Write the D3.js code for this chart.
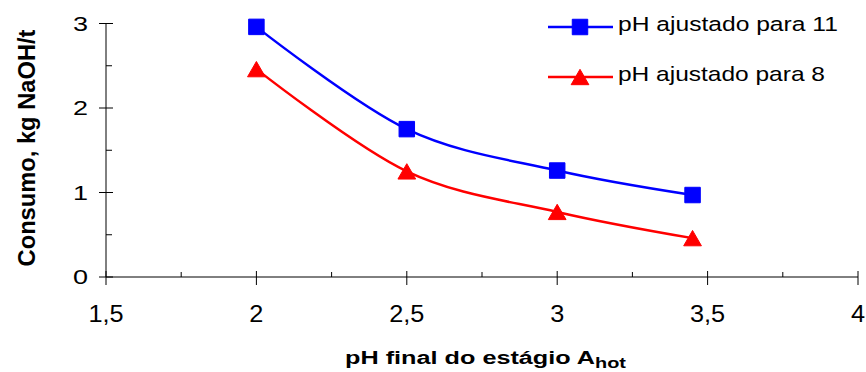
<!DOCTYPE html>
<html>
<head>
<meta charset="utf-8">
<script src="https://cdn.jsdelivr.net/npm/d3@7"></script>
<style>
  html, body { margin: 0; padding: 0; background: #fff; }
  svg { display: block; font-family: Arial, "Liberation Sans", sans-serif; }
</style>
</head>
<body>
<svg id="chart" width="866" height="372"></svg>
<script>
// pH final do estágio A_hot vs. consumo de NaOH
const phFinal = [2.0, 2.5, 3.0, 3.45];
const consumoPH11 = [2.96, 1.75, 1.26, 0.97];
const consumoPH8 = [2.46, 1.25, 0.77, 0.46];
const seriesNames = ["pH ajustado para 11", "pH ajustado para 8"];
const xTicks = [1.5, 2, 2.5, 3, 3.5, 4];
const xMinorTicks = [1.75, 2.25, 2.75, 3.25, 3.75];
const yTicks = [0, 1, 2, 3];
const yMinorTicks = [0.5, 1.5, 2.5];

const svg = d3.select("#chart");
const plotLeft = 106, plotRight = 858, plotTop = 23.5, plotBottom = 277;

const x = d3.scaleLinear().domain([1.5, 4]).range([plotLeft, plotRight]);
const y = d3.scaleLinear().domain([0, 3]).range([plotBottom, plotTop]);
const fmt = d => String(d).replace(".", ",");

// stretch a text element horizontally (in its own frame) to a target width
function fitWidth(textSel, target) {
  const w = textSel.node().getComputedTextLength();
  return target / w;
}

const axisColor = "#000";
const g = svg.append("g");

// x axis line and ticks
g.append("line").attr("x1", plotLeft).attr("x2", plotRight).attr("y1", plotBottom).attr("y2", plotBottom)
  .attr("stroke", axisColor).attr("stroke-width", 1);
g.selectAll(".xt").data(xTicks).join("line")
  .attr("x1", d => x(d)).attr("x2", d => x(d))
  .attr("y1", plotBottom - 6).attr("y2", plotBottom + 8)
  .attr("stroke", axisColor).attr("stroke-width", 1);
g.selectAll(".xm").data(xMinorTicks).join("line")
  .attr("x1", d => x(d)).attr("x2", d => x(d))
  .attr("y1", plotBottom - 5).attr("y2", plotBottom)
  .attr("stroke", axisColor).attr("stroke-width", 1);
g.selectAll(".xl").data(xTicks).join("text")
  .attr("transform", d => `translate(${x(d)},${plotBottom + 45}) scale(1.1,1)`)
  .attr("text-anchor", "middle").attr("font-size", 23)
  .text(fmt);

// y axis line and ticks
g.append("line").attr("x1", plotLeft).attr("x2", plotLeft).attr("y1", plotTop).attr("y2", plotBottom)
  .attr("stroke", axisColor).attr("stroke-width", 1);
g.selectAll(".yt").data(yTicks).join("line")
  .attr("x1", plotLeft - 7).attr("x2", plotLeft + 7)
  .attr("y1", d => y(d)).attr("y2", d => y(d))
  .attr("stroke", axisColor).attr("stroke-width", 1);
g.selectAll(".ym").data(yMinorTicks).join("line")
  .attr("x1", plotLeft).attr("x2", plotLeft + 6)
  .attr("y1", d => y(d)).attr("y2", d => y(d))
  .attr("stroke", axisColor).attr("stroke-width", 1);
g.selectAll(".yl").data(yTicks).join("text")
  .attr("transform", d => `translate(${plotLeft - 18},${y(d) + 7}) scale(1.35,1)`)
  .attr("text-anchor", "end").attr("font-size", 20)
  .text(d => d);

// x axis title with subscript
const xTitle = g.append("text")
  .attr("text-anchor", "middle").attr("font-size", 19).attr("font-weight", "bold");
xTitle.append("tspan").text("pH final do estágio A");
xTitle.append("tspan").attr("font-size", 15).attr("dy", 4).text("hot");
const xs = fitWidth(xTitle, 281);
xTitle.attr("transform", `translate(485.5,364) scale(${xs},1)`);

// y axis title
const yTitle = g.append("text")
  .attr("text-anchor", "middle").attr("font-size", 23).attr("font-weight", "bold")
  .text("Consumo, kg NaOH/t");
const ys = fitWidth(yTitle, 237);
yTitle.attr("transform", `translate(35,148) rotate(-90) scale(${ys},1)`);

// series
const line = d3.line().x(d => x(d[0])).y(d => y(d[1])).curve(d3.curveCardinal);
const triSize = 136;
const triShift = Math.sqrt(triSize / (Math.sqrt(3) * 3)) / 2;
const series = [
  { name: seriesNames[0], values: consumoPH11, color: "#0000ff", symbol: d3.symbolSquare, size: 240, dy: 0 },
  { name: seriesNames[1], values: consumoPH8, color: "#ff0000", symbol: d3.symbolTriangle, size: triSize, dy: triShift }
];

series.forEach(s => {
  const pts = phFinal.map((p, i) => [p, s.values[i]]);
  svg.append("path").datum(pts).attr("d", line)
    .attr("fill", "none").attr("stroke", s.color).attr("stroke-width", 2.5);
  svg.selectAll(null).data(pts).join("path")
    .attr("d", d3.symbol().type(s.symbol).size(s.size))
    .attr("transform", d => `translate(${x(d[0])},${y(d[1]) + s.dy})`)
    .attr("fill", s.color).attr("stroke", s.color).attr("stroke-width", 1)
    .attr("stroke-linejoin", "round");
});

// legend
const legend = svg.append("g");
const legendWidths = [220, 207];
series.forEach((s, i) => {
  const ly = 27 + i * 50;
  legend.append("line").attr("x1", 548).attr("x2", 613).attr("y1", ly).attr("y2", ly)
    .attr("stroke", s.color).attr("stroke-width", 2.5);
  legend.append("path").attr("d", d3.symbol().type(s.symbol).size(s.size))
    .attr("transform", `translate(580,${ly + s.dy})`).attr("fill", s.color)
    .attr("stroke", s.color).attr("stroke-width", 1).attr("stroke-linejoin", "round");
  const t = legend.append("text").attr("font-size", 20.5).text(s.name);
  const k = fitWidth(t, legendWidths[i]);
  t.attr("transform", `translate(618,${ly + 4}) scale(${k},1)`);
});
</script>
</body>
</html>
